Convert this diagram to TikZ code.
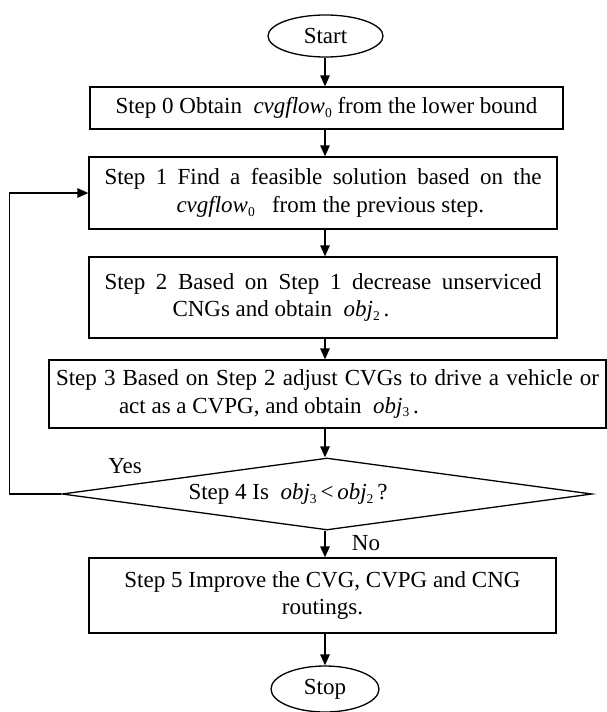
\documentclass[tikz,border=0pt]{standalone}
\usepackage{fontspec}
\setmainfont{Liberation Serif}
\usetikzlibrary{shapes.geometric,arrows.meta}
% italic variable with a small, lowered index
\newcommand{\lowsub}[1]{\raisebox{-0.35ex}{\fontsize{13.5}{13.5}\selectfont #1}}
\newcommand{\var}[2]{\textit{#1}\lowsub{#2}}

\begin{document}
\begin{tikzpicture}[x=1pt,y=-1pt,
  every node/.style={font=\fontsize{23}{27.5}\selectfont, inner sep=0pt},
  stepbox/.style={draw, rectangle, line width=1.3pt, align=center},
  term/.style={draw, ellipse, line width=1.3pt},
  decision/.style={draw, diamond, aspect=7.4, line width=1.3pt},
  arr/.style={line width=1.3pt, -{Triangle[length=11pt,width=9.5pt]}}]
\useasboundingbox (0,0) rectangle (607,712);

% column of the main flow
\coordinate (col) at (325,0);

\node[term, minimum width=115, minimum height=42] (start) at (325.5,36) {Start};

\node[stepbox, minimum width=473, minimum height=42] (s0) at (326.5,108)
  {Step 0 Obtain\ \ \var{cvgflow}{0} from the lower bound};

\node[stepbox, minimum width=468, minimum height=72] (s1) at (323,193)
  {\makebox[437pt][s]{Step 1 Find a feasible solution based on the}\\
   \makebox[437pt][l]{\hspace{72pt}\var{cvgflow}{0}\ \ \ from the previous step.}};

\node[stepbox, minimum width=468, minimum height=81] (s2) at (323,297.5)
  {\makebox[437pt][s]{Step 2 Based on Step 1 decrease unserviced}\\
   \makebox[437pt][l]{\hspace{68pt}CNGs and obtain\ \ \var{obj}{2}\,.}};

\node[stepbox, minimum width=557, minimum height=68] (s3) at (327.5,394)
  {\makebox[543pt][s]{Step 3 Based on Step 2 adjust CVGs to drive a vehicle or}\\
   \makebox[543pt][l]{\hspace{63pt}act as a CVPG, and obtain\ \ \var{obj}{3}\,.}};

% the test text is hung on its "<" sign
\node[decision, minimum width=530, minimum height=72] (dec) at (327,494)
  {\makebox[0pt][r]{Step 4 Is\ \ \var{obj}{3}\,}<\makebox[0pt][l]{\,\var{obj}{2}\,?}};

\node[stepbox, minimum width=467, minimum height=75] (s5) at (322.5,595.5)
  {Step 5 Improve the CVG, CVPG and CNG\\ routings.};

\node[term, minimum width=108, minimum height=46] (stop) at (325,689) {Stop};

\node (yes) at (125,466) {Yes};
\node (no) at (366,543) {No};

% main flow
\draw[arr] (start.south -| col) -- (s0.north -| col);
\draw[arr] (s0.south -| col) -- (s1.north -| col);
\draw[arr] (s1.south -| col) -- (s2.north -| col);
\draw[arr] (s2.south -| col) -- (s3.north -| col);
\draw[arr] (s3.south -| col) -- (dec.north -| col);
\draw[arr] (dec.south -| col) -- (s5.north -| col);
\draw[arr] (s5.south -| col) -- (stop.north -| col);

% "Yes" branch back to Step 1
\draw[arr] (dec.west) -- ++(-52,0) |- (s1.west);
\end{tikzpicture}
\end{document}
